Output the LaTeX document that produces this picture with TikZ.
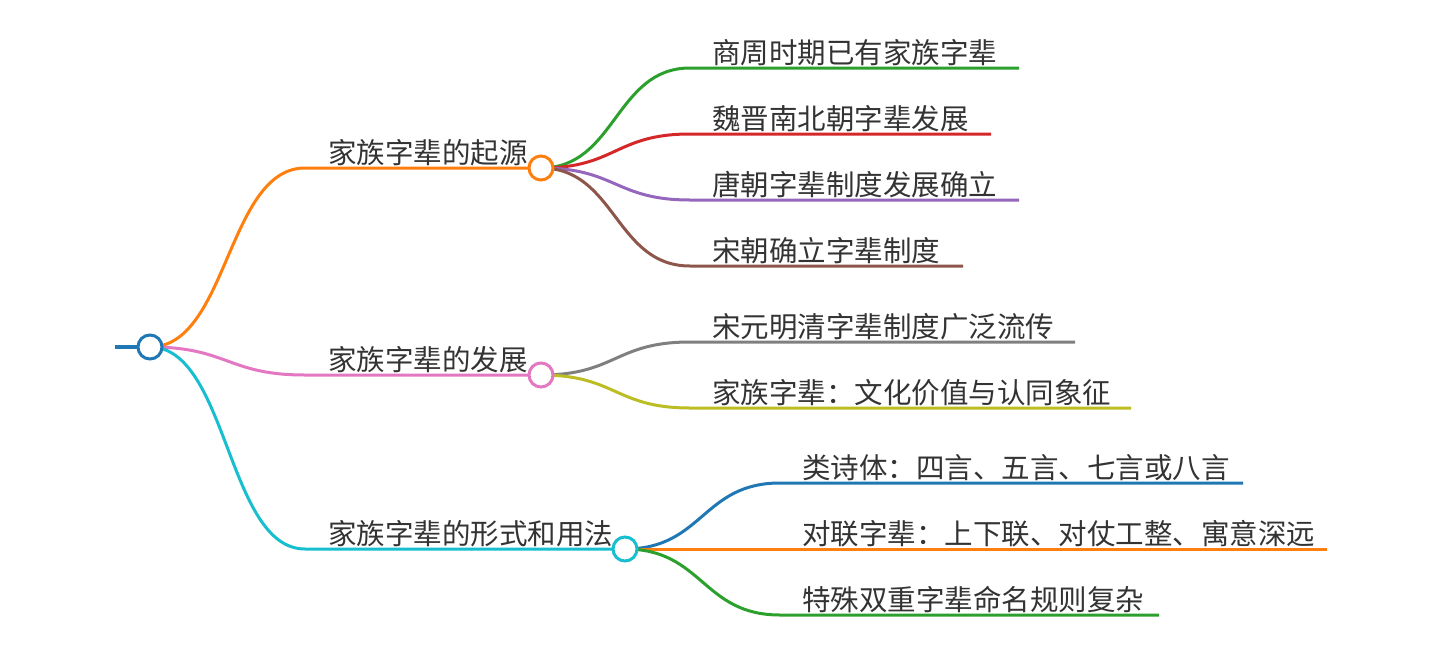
\documentclass[tikz,border=0pt]{standalone}
\usepackage{fontspec}
\newfontfamily\cjk{Noto Sans CJK SC}
\usetikzlibrary{backgrounds}

\definecolor{cBlue}{HTML}{1F77B4}
\definecolor{cOrange}{HTML}{FF7F0E}
\definecolor{cGreen}{HTML}{2CA02C}
\definecolor{cRed}{HTML}{D62728}
\definecolor{cPurple}{HTML}{9467BD}
\definecolor{cBrown}{HTML}{8C564B}
\definecolor{cPink}{HTML}{E377C2}
\definecolor{cGrey}{HTML}{7F7F7F}
\definecolor{cOlive}{HTML}{BCBD22}
\definecolor{cCyan}{HTML}{17BECF}
\definecolor{txt}{HTML}{333333}

\begin{document}
\begin{tikzpicture}[
    x=0.5pt,y=-0.5pt,
    dot/.style={circle,draw,fill=white,line width=1.5pt,minimum size=12pt,inner sep=0pt},
    link/.style={line width=1.5pt},
    lbl/.style={font=\cjk\fontsize{14.25pt}{16pt}\selectfont,text=txt,anchor=base west,inner sep=0pt}
]
    \useasboundingbox (0,0) rectangle (1440,648);

    % Root and branch circles
    \node[dot,draw=cBlue] (root) at (150,347) {};
    \coordinate (rin) at (115,347);
    \draw[link,cBlue,line width=2pt] (rin) -- (root);

    \node[dot,draw=cOrange] (b1) at (541,168) {};
    \node[dot,draw=cPink]   (b2) at (541,375) {};
    \node[dot,draw=cCyan]   (b3) at (625,549) {};

    % Branch labels
    \node[lbl] (t1) at (328,163) {家族字辈的起源};
    \node[lbl] (t2) at (328,370) {家族字辈的发展};
    \node[lbl] (t3) at (328,544) {家族字辈的形式和用法};

    % Links from root to branches
    \begin{scope}[on background layer]
        \foreach \b/\y/\c in {1/168/cOrange, 2/375/cPink, 3/549/cCyan} {
            \coordinate (bs\b) at (305,\y);
            \draw[link,\c] (root.center) .. controls +(78,0) and +(-78,0) .. (bs\b) -- (b\b.center);
        }
    \end{scope}

    % Leaves of the first branch
    \foreach \n/\y/\e/\c/\t in {
        11/68/1019/cGreen/商周时期已有家族字辈,
        12/134/991/cRed/魏晋南北朝字辈发展,
        13/200/1019/cPurple/唐朝字辈制度发展确立,
        14/266/963/cBrown/宋朝确立字辈制度} {
        \coordinate (s\n) at (690,\y);
        \coordinate (e\n) at (\e,\y);
        \node[lbl] (t\n) at (712,\y-5) {\t};
        \begin{scope}[on background layer]
            \draw[link,\c] (b1.center) .. controls +(75,0) and +(-75,0) .. (s\n) -- (e\n);
        \end{scope}
    }

    % Leaves of the second branch
    \foreach \n/\y/\e/\c/\t in {
        21/342/1075/cGrey/宋元明清字辈制度广泛流传,
        22/408/1131/cOlive/家族字辈：文化价值与认同象征} {
        \coordinate (s\n) at (690,\y);
        \coordinate (e\n) at (\e,\y);
        \node[lbl] (t\n) at (712,\y-5) {\t};
        \begin{scope}[on background layer]
            \draw[link,\c] (b2.center) .. controls +(75,0) and +(-75,0) .. (s\n) -- (e\n);
        \end{scope}
    }

    % Leaves of the third branch
    \foreach \n/\y/\e/\c/\t in {
        31/483/1243/cBlue/类诗体：四言、五言、七言或八言,
        32/549/1327/cOrange/对联字辈：上下联、对仗工整、寓意深远,
        33/615/1159/cGreen/特殊双重字辈命名规则复杂} {
        \coordinate (s\n) at (780,\y);
        \coordinate (e\n) at (\e,\y);
        \node[lbl] (t\n) at (802,\y-5) {\t};
        \begin{scope}[on background layer]
            \draw[link,\c] (b3.center) .. controls +(78,0) and +(-78,0) .. (s\n) -- (e\n);
        \end{scope}
    }
\end{tikzpicture}
\end{document}
